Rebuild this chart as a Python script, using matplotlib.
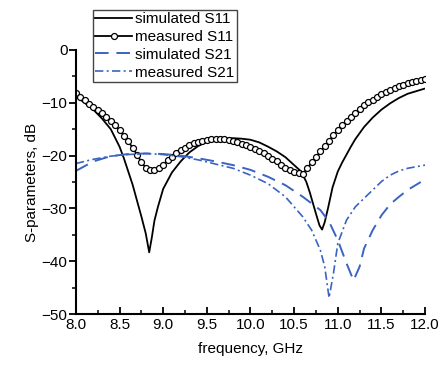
import numpy as np
import matplotlib
matplotlib.use("Agg")
from matplotlib import pyplot as plt
from matplotlib.ticker import MultipleLocator

# simulated S11 (solid black)
f_sim11 = [8.00, 8.10, 8.20, 8.30, 8.40, 8.50, 8.55, 8.60, 8.65, 8.70, 8.75, 8.80, 8.84,
           8.87, 8.90, 8.94, 9.00, 9.10, 9.20, 9.30, 9.40, 9.50, 9.60, 9.70, 9.80,
           9.90, 10.00, 10.10, 10.20, 10.30, 10.40, 10.50, 10.58, 10.64, 10.68, 10.72, 10.75,
           10.79, 10.82, 10.85, 10.89, 10.94, 11.00, 11.05, 11.10, 11.15, 11.20, 11.30, 11.40,
           11.50, 11.60, 11.70, 11.80, 11.90, 12.00]
s11_sim = [-8.8, -10.0, -11.3, -13.0, -15.0, -18.3, -20.5, -23.0, -25.5, -28.5, -31.5, -34.7, -38.3,
           -35.5, -32.3, -29.7, -26.3, -23.2, -21.1, -19.4, -18.2, -17.4, -17.0, -16.8, -16.7,
           -16.8, -17.0, -17.5, -18.3, -19.2, -20.3, -21.8, -23.0, -25.0, -27.0, -29.3, -31.0,
           -33.2, -34.0, -32.6, -29.8, -26.0, -23.0, -21.3, -19.8, -18.3, -16.9, -14.6, -12.8,
           -11.3, -10.1, -9.1, -8.3, -7.8, -7.3]

# measured S11 (line + open circles), 0.05 GHz step
f_meas11 = [8.00, 8.05, 8.10, 8.15, 8.20, 8.25, 8.30, 8.35, 8.40, 8.45, 8.50, 8.55, 8.60, 8.65,
            8.70, 8.75, 8.80, 8.85, 8.90, 8.95, 9.00, 9.05, 9.10, 9.15, 9.20, 9.25, 9.30, 9.35,
            9.40, 9.45, 9.50, 9.55, 9.60, 9.65, 9.70, 9.75, 9.80, 9.85, 9.90, 9.95, 10.00, 10.05,
            10.10, 10.15, 10.20, 10.25, 10.30, 10.35, 10.40, 10.45, 10.50, 10.55, 10.60, 10.65,
            10.70, 10.75, 10.80, 10.85, 10.90, 10.95, 11.00, 11.05, 11.10, 11.15, 11.20, 11.25,
            11.30, 11.35, 11.40, 11.45, 11.50, 11.55, 11.60, 11.65, 11.70, 11.75, 11.80, 11.85,
            11.90, 11.95, 12.00]
s11_meas = [-8.2, -8.9, -9.5, -10.2, -10.8, -11.4, -12.0, -12.7, -13.5, -14.3, -15.2, -16.2, -17.3, -18.5,
            -19.8, -21.2, -22.3, -22.8, -22.7, -22.3, -21.7, -20.9, -20.2, -19.6, -19.0, -18.5, -18.0, -17.6,
            -17.4, -17.2, -17.0, -16.9, -16.8, -16.8, -16.9, -17.0, -17.2, -17.5, -17.8, -18.0, -18.3, -18.7,
            -19.1, -19.6, -20.1, -20.6, -21.1, -21.7, -22.3, -22.8, -23.1, -23.3, -23.4, -22.4,
            -21.3, -20.3, -19.2, -18.2, -17.2, -16.1, -15.1, -14.2, -13.4, -12.6, -11.9, -11.2,
            -10.5, -9.9, -9.4, -8.9, -8.4, -8.0, -7.6, -7.2, -6.9, -6.6, -6.3, -6.1,
            -5.9, -5.7, -5.5]

# simulated S21 (dashed blue)
f_sim21 = [8.00, 8.20, 8.40, 8.60, 8.80, 9.00, 9.20, 9.40, 9.60, 9.80, 10.00, 10.20, 10.40,
           10.60, 10.80, 10.90, 11.00, 11.10, 11.18, 11.25, 11.30, 11.40, 11.50, 11.60, 11.70,
           11.80, 11.95]
s21_sim = [-22.9, -21.1, -20.1, -19.7, -19.6, -19.7, -20.0, -20.5, -21.1, -21.8, -22.7, -24.0, -25.6,
           -27.8, -30.3, -32.5, -36.0, -40.4, -43.6, -41.0, -37.6, -34.1, -31.3, -29.2, -27.8,
           -26.5, -25.0]

# measured S21 (dash-dot blue)
f_meas21 = [8.00, 8.20, 8.40, 8.60, 8.80, 9.00, 9.20, 9.40, 9.60, 9.80, 10.00, 10.20, 10.40,
            10.60, 10.70, 10.80, 10.85, 10.90, 10.95, 11.00, 11.10, 11.20, 11.30, 11.40, 11.50,
            11.60, 11.70, 11.80, 11.90, 12.00]
s21_meas = [-21.5, -20.7, -20.1, -19.8, -19.6, -19.8, -20.2, -20.8, -21.6, -22.4, -23.7, -25.3, -27.8,
            -31.6, -34.1, -37.9, -41.0, -46.9, -42.3, -36.6, -32.2, -29.7, -28.1, -26.5, -24.9,
            -23.7, -22.9, -22.4, -22.1, -21.8]

plt.rcParams["font.family"] = ["Liberation Sans", "DejaVu Sans"]
plt.rcParams["font.size"] = 11

blue = "#3b63c2"

fig = plt.figure(figsize=(4.41, 3.67), dpi=100)
ax = fig.add_axes([0.172, 0.144, 0.792, 0.720])

ax.plot(f_sim11, s11_sim, color="k", lw=1.3, label="simulated S11")
ax.plot(f_meas11, s11_meas, color="k", lw=1.3, marker="o", ms=4.3,
        mfc="white", mec="k", mew=0.9, label="measured S11")
ax.plot(f_sim21, s21_sim, color=blue, lw=1.4, dashes=(7, 4), label="simulated S21")
ax.plot(f_meas21, s21_meas, color=blue, lw=1.2, dashes=(5, 2, 1.2, 2), label="measured S21")

ax.set_xlim(8.0, 12.0)
ax.set_ylim(-50, 0)
ax.xaxis.set_major_locator(MultipleLocator(0.5))
ax.xaxis.set_minor_locator(MultipleLocator(0.25))
ax.yaxis.set_major_locator(MultipleLocator(10))
ax.yaxis.set_minor_locator(MultipleLocator(5))
ax.xaxis.set_major_formatter(plt.FormatStrFormatter("%.1f"))

for s in ["top", "right"]:
    ax.spines[s].set_visible(False)
for s in ["left", "bottom"]:
    ax.spines[s].set_linewidth(1.5)

ax.tick_params(axis="x", which="major", direction="in", length=5, width=1.3, pad=3)
ax.tick_params(axis="x", which="minor", direction="in", length=3, width=1.1)
ax.tick_params(axis="y", which="major", direction="out", length=5, width=1.3, pad=1)
ax.tick_params(axis="y", which="minor", direction="out", length=3, width=1.1)

ax.set_xlabel("frequency, GHz", labelpad=7)
ax.set_ylabel("S-parameters, dB", labelpad=2)

leg = fig.legend(loc="upper left", bbox_to_anchor=(0.211, 0.973), frameon=True,
                 fancybox=False, edgecolor="#444444", handlelength=2.4,
                 handletextpad=0.2, labelspacing=0.25, borderpad=0.15,
                 borderaxespad=0.0, framealpha=1)
leg.get_frame().set_linewidth(1.0)

fig.savefig("out.png", dpi=100)
